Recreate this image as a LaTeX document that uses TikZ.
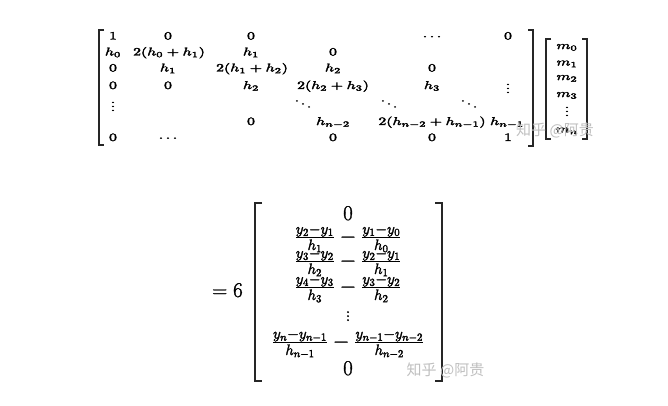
\RequirePackage{fix-cm}
\documentclass[tikz,border=0pt]{standalone}
\usepackage{fontspec}
\usepackage{graphicx}
\newfontfamily\cjkwm{Noto Sans CJK SC}
\newcommand\fkb[1]{\special{pdf:literal direct 2 Tr 0.3 w}#1\special{pdf:literal direct 0 Tr}}
\newcommand\sx[1]{\scalebox{1.4}[1]{\fkb{#1}}}
\tikzset{
  topent/.style={inner sep=0pt, anchor=base, font=\fontsize{11.3}{13}\selectfont},
  botent/.style={inner sep=0pt, anchor=base, font=\fontsize{21}{25}\selectfont},
  botfrac/.style={inner sep=0pt, anchor=base, font=\fontsize{21.5}{26}\selectfont},
  brk/.style={line width=1.1pt, black!85},
  bigbrk/.style={line width=1.4pt, black!85},
  wmark/.style={inner sep=0pt, anchor=center, text=black!25, font=\fontsize{15}{17}\cjkwm}
}
\begin{document}
\begin{tikzpicture}[x=1pt,y=-1pt]
\useasboundingbox[fill=white] (0,0) rectangle (668,406);
% ---------- top matrix ----------
% row 1
\node[topent] (a11) at (113,39.5) {\sx{$1$}};
\node[topent] (a12) at (168,39.5) {\sx{$0$}};
\node[topent] (a13) at (251,39.5) {\sx{$0$}};
\node[topent] (a15) at (432,39.5) {\sx{$\cdots$}};
\node[topent] (a16) at (508,39.5) {\sx{$0$}};
% row 2
\node[topent] (a21) at (113,55.5) {\sx{$h_0$}};
\node[topent] (a22) at (169,55.5) {\sx{$2(h_0+h_1)$}};
\node[topent] (a23) at (251,55.5) {\sx{$h_1$}};
\node[topent] (a24) at (333,55.5) {\sx{$0$}};
% row 3
\node[topent] (a31) at (113,71.5) {\sx{$0$}};
\node[topent] (a32) at (168,71.5) {\sx{$h_1$}};
\node[topent] (a33) at (252,71.5) {\sx{$2(h_1+h_2)$}};
\node[topent] (a34) at (333,71.5) {\sx{$h_2$}};
\node[topent] (a35) at (432,71.5) {\sx{$0$}};
% row 4
\node[topent] (a41) at (113,89) {\sx{$0$}};
\node[topent] (a42) at (168,89) {\sx{$0$}};
\node[topent] (a43) at (251,89) {\sx{$h_2$}};
\node[topent] (a44) at (333,89) {\sx{$2(h_2+h_3)$}};
\node[topent] (a45) at (432,89) {\sx{$h_3$}};
\node[topent] (a46) at (508,93) {\sx{$\vdots$}};
% row 5
\node[topent] (a51) at (113,111) {\sx{$\vdots$}};
\node[topent] (a54) at (303,108.5) {\sx{$\ddots$}};
\node[topent] (a55) at (389,108.5) {\sx{$\ddots$}};
\node[topent] (a56) at (469,108.5) {\sx{$\ddots$}};
% row 6
\node[topent] (a63) at (251,125) {\sx{$0$}};
\node[topent] (a64) at (333,125) {\sx{$h_{n-2}$}};
\node[topent] (a65) at (432,125) {\sx{$2(h_{n-2}+h_{n-1})$}};
\node[topent] (a66) at (507,125) {\sx{$h_{n-1}$}};
% row 7
\node[topent] (a71) at (113,141) {\sx{$0$}};
\node[topent] (a72) at (168,141) {\sx{$\cdots$}};
\node[topent] (a74) at (333,141) {\sx{$0$}};
\node[topent] (a75) at (432,141) {\sx{$0$}};
\node[topent] (a76) at (508,141) {\sx{$1$}};
% brackets of the matrix
\draw[brk] (104,30) -- (99,30) -- (99,145) -- (104,145);
\draw[brk] (528,30) -- (533,30) -- (533,146) -- (528,146);
% ---------- m vector ----------
\node[topent] (m0) at (567,49) {\sx{$m_0$}};
\node[topent] (m1) at (567,65.5) {\sx{$m_1$}};
\node[topent] (m2) at (567,80) {\sx{$m_2$}};
\node[topent] (m3) at (567,97) {\sx{$m_3$}};
\node[topent] (mv) at (567,116) {\sx{$\vdots$}};
\node[topent] (mn) at (567,132.5) {\sx{$m_n$}};
\draw[brk] (551,39) -- (546,39) -- (546,139) -- (551,139);
\draw[brk] (582,39) -- (587,39) -- (587,139) -- (582,139);
% watermark top
\node[wmark] (wm1) at (555,130) {知乎 @阿贵};
% ---------- right-hand side ----------
\node[botent] (eq) at (227.5,297) {\fkb{$=6$}};
\node[botent] (b1) at (348,220) {\fkb{$0$}};
\node[botfrac] (b2) at (348,242.5) {\fkb{$\frac{y_2-y_1}{h_1}-\frac{y_1-y_0}{h_0}$}};
\node[botfrac] (b3) at (348,266.5) {\fkb{$\frac{y_3-y_2}{h_2}-\frac{y_2-y_1}{h_1}$}};
\node[botfrac] (b4) at (348,292.5) {\fkb{$\frac{y_4-y_3}{h_3}-\frac{y_3-y_2}{h_2}$}};
\node[botent] (b5) at (348,321) {\fkb{$\vdots$}};
\node[botfrac] (b6) at (348,347.5) {\fkb{$\frac{y_n-y_{n-1}}{h_{n-1}}-\frac{y_{n-1}-y_{n-2}}{h_{n-2}}$}};
\node[botent] (b7) at (348,375) {\fkb{$0$}};
\draw[bigbrk] (262,203) -- (255,203) -- (255,381) -- (262,381);
\draw[bigbrk] (435,203) -- (442,203) -- (442,381) -- (435,381);
% watermark bottom
\node[wmark] (wm2) at (445.5,370) {知乎 @阿贵};
\end{tikzpicture}
\end{document}
